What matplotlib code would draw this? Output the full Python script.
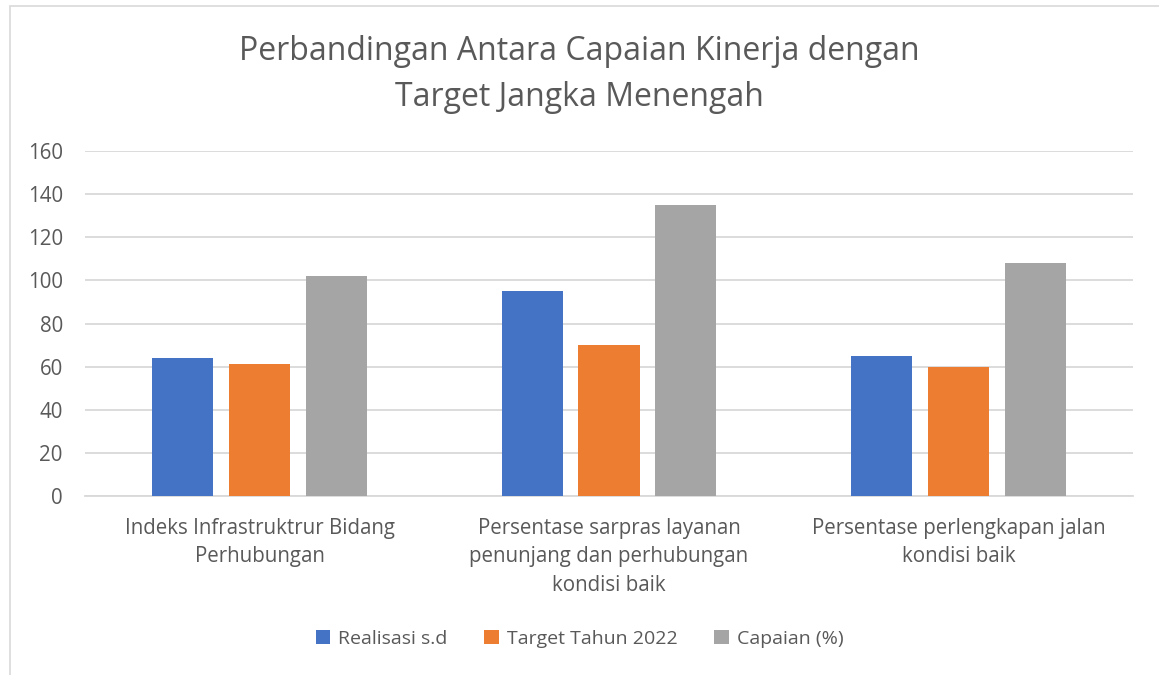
import numpy as np
import matplotlib.pyplot as plt
from matplotlib.patches import Rectangle

# data
categories = ["Indeks Infrastruktrur Bidang\nPerhubungan",
              "Persentase sarpras layanan\npenunjang dan perhubungan\nkondisi baik",
              "Persentase perlengkapan jalan\nkondisi baik"]
realisasi = [64, 95, 65]
target_2022 = [61, 70, 60]
capaian = [102, 135, 108]
series_names = ["Realisasi s.d", "Target Tahun 2022", "Capaian (%)"]
colors = ["#4472C4", "#ED7D31", "#A5A5A5"]

plt.rcParams['font.family'] = ['Open Sans', 'DejaVu Sans']
text_color = "#595959"

fig = plt.figure(figsize=(11.59, 6.75), dpi=100)
# chart border
fig.patches.append(Rectangle((10 / 1159, -0.01), 1.0, 1 - 6 / 675 + 0.01, transform=fig.transFigure,
                             fill=False, edgecolor="#d9d9d9", linewidth=1.2))

ax = fig.add_axes([85 / 1159, 1 - 496 / 675, 1048 / 1159, 345 / 675])

x = np.arange(len(categories))
w = 0.175
step = 0.22
for i, (vals, name, c) in enumerate(zip([realisasi, target_2022, capaian], series_names, colors)):
    ax.bar(x + (i - 1) * step, vals, width=w, color=c, label=name, zorder=3)

ax.set_xlim(-0.5, 2.5)
ax.set_ylim(0, 160)
ax.set_yticks(range(0, 161, 20))
ax.grid(axis='y', color="#d9d9d9", linewidth=1.3, zorder=0)
for s in ['top', 'right', 'left']:
    ax.spines[s].set_visible(False)
ax.spines['bottom'].set_color("#d9d9d9")
ax.spines['bottom'].set_linewidth(1.3)
ax.tick_params(axis='both', length=0, colors=text_color, labelsize=14.8)
ax.tick_params(axis='y', pad=16)
ax.tick_params(axis='x', pad=16)
ax.set_xticks(x)
ax.set_xticklabels(categories, linespacing=1.45)

fig.text(0.5, 1 - 52 / 675, "Perbandingan Antara Capaian Kinerja dengan", ha='center', va='center',
         fontsize=23, color=text_color)
fig.text(0.5, 1 - 97 / 675, "Target Jangka Menengah", ha='center', va='center',
         fontsize=23, color=text_color)

fig.legend(loc='center', bbox_to_anchor=(0.5, 1 - 639 / 675), ncol=3, frameon=False,
           fontsize=14, labelcolor=text_color, handlelength=0.75, handleheight=0.75,
           handletextpad=0.4, columnspacing=1.9)

fig.savefig("out.png", dpi=100)
